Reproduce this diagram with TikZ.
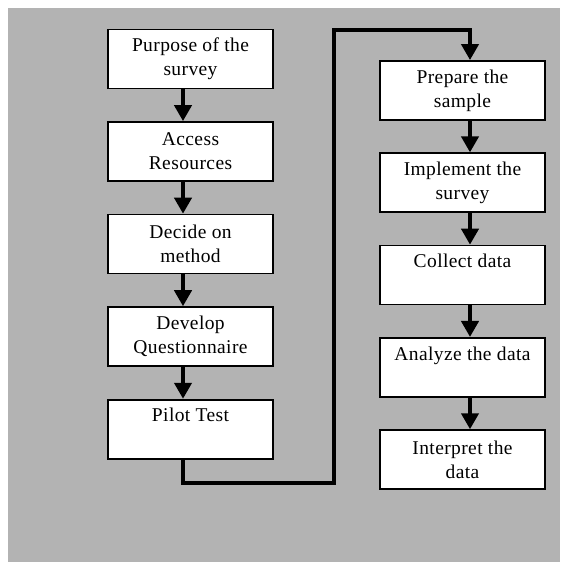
\documentclass[tikz,border=0pt]{standalone}
\usepackage{fontspec}
\setmainfont{Liberation Serif}[LetterSpace=2]
\usepackage{tikz}
\usetikzlibrary{arrows.meta, positioning}
\definecolor{bggray}{RGB}{179,179,179}

\begin{document}
\begin{tikzpicture}[x=1pt, y=1pt,
  node distance=31.5pt,
  block/.style={rectangle, draw, line width=1.8pt, fill=white,
                minimum width=165pt, minimum height=59pt, align=center,
                font=\fontsize{19.5}{24}\selectfont},
  arrow/.style={-{Triangle[length=16pt, width=17pt]}, line width=4.5pt},
  link/.style={arrow, line join=miter},
]
  \useasboundingbox (0,0) rectangle (560,562);
  \fill[bggray] (8,0) rectangle (560,554);

  % left column
  \node[block] (purpose) at (190.5,503) {Purpose of the\\survey};
  \node[block, below=31.75pt of purpose] (access) {Access\\Resources};
  \node[block, below=31.75pt of access] (method) {Decide on\\method};
  \node[block, below=31.75pt of method] (develop) {Develop\\Questionnaire};
  \node[block, below=31.75pt of develop] (pilot) {Pilot Test\\\phantom{y}};

  % right column
  \node[block] (sample) at (462.5,471.5) {Prepare the\\sample};
  \node[block, below=of sample] (implement) {Implement the\\survey};
  \node[block, below=of implement] (collect) {Collect data\\\phantom{y}};
  \node[block, below=of collect] (analyze) {Analyze the data\\\phantom{y}};
  \node[block, below=of analyze] (interpret) {Interpret the\\data};

  \coordinate (midbot) at (334,79);
  \coordinate (midtop) at (334,532);

  \draw[arrow] ([xshift=-7.5pt]purpose.south) -- ([xshift=-7.5pt]access.north);
  \draw[arrow] ([xshift=-7.5pt]access.south) -- ([xshift=-7.5pt]method.north);
  \draw[arrow] ([xshift=-7.5pt]method.south) -- ([xshift=-7.5pt]develop.north);
  \draw[arrow] ([xshift=-7.5pt]develop.south) -- ([xshift=-7.5pt]pilot.north);
  \draw[link] ([xshift=-7.5pt]pilot.south) |- (midbot) -- (midtop)
    -| ([xshift=7.5pt]sample.north);
  \draw[arrow] ([xshift=7.5pt]sample.south) -- ([xshift=7.5pt]implement.north);
  \draw[arrow] ([xshift=7.5pt]implement.south) -- ([xshift=7.5pt]collect.north);
  \draw[arrow] ([xshift=7.5pt]collect.south) -- ([xshift=7.5pt]analyze.north);
  \draw[arrow] ([xshift=7.5pt]analyze.south) -- ([xshift=7.5pt]interpret.north);
\end{tikzpicture}
\end{document}
